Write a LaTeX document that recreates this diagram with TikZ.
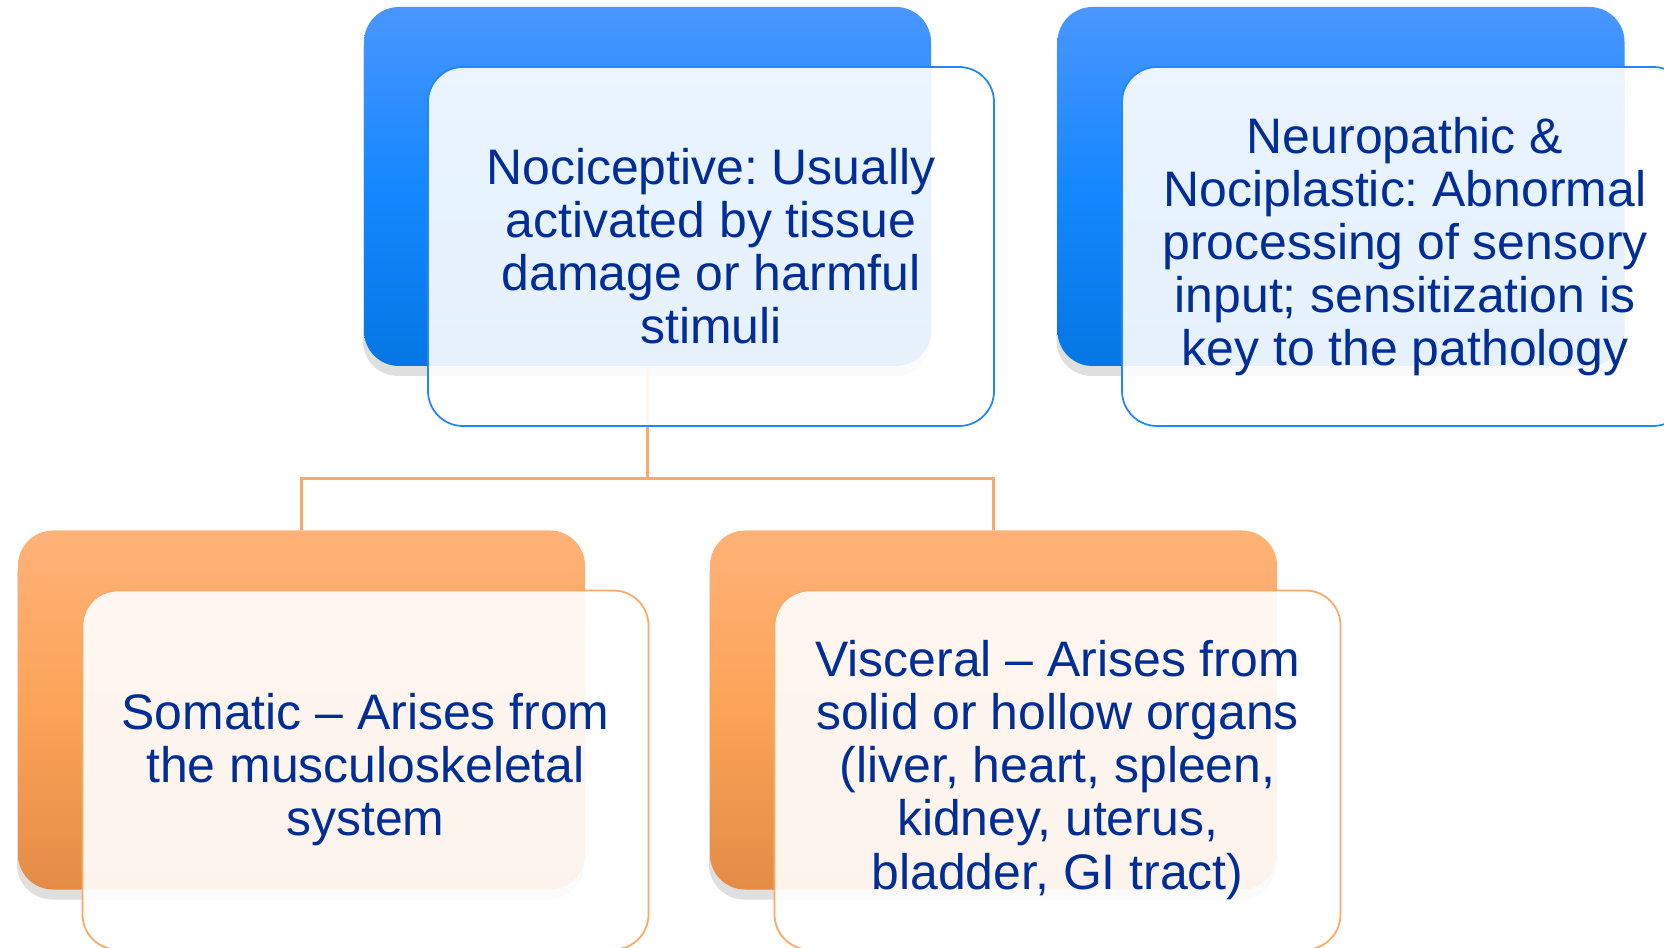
\documentclass[tikz,border=0pt]{standalone}
\usepackage{fontspec}
\setmainfont{Liberation Sans}
\frenchspacing
\usetikzlibrary{shadows}

\definecolor{blueTop}{RGB}{74,150,255}
\definecolor{blueMid}{RGB}{20,136,255}
\definecolor{blueBot}{RGB}{6,118,228}
\definecolor{orangeTop}{RGB}{255,178,120}
\definecolor{orangeMid}{RGB}{252,163,88}
\definecolor{orangeBot}{RGB}{228,140,70}
\definecolor{blueLine}{RGB}{35,135,250}
\definecolor{orangeLine}{RGB}{252,168,105}
\definecolor{txtBlue}{RGB}{0,45,150}

\begin{document}
\begin{tikzpicture}[
  back/.style={rounded corners=0.35cm, minimum width=5.67cm, minimum height=3.59cm,
    drop shadow={shadow xshift=-0.1mm, shadow yshift=-1mm, opacity=0.25}},
  blueback/.style={back, top color=blueTop, bottom color=blueBot, middle color=blueMid},
  orangeback/.style={back, top color=orangeTop, bottom color=orangeBot, middle color=orangeMid},
  front/.style={draw, line width=0.5pt, rounded corners=0.35cm, minimum width=5.66cm,
    minimum height=3.59cm, fill=white, fill opacity=0.9, text opacity=1, text=txtBlue,
    align=center, font=\fontsize{14.2}{15.1}\selectfont},
  bluefront/.style={front, draw=blueLine},
  orangefront/.style={front, draw=orangeLine},
  link/.style={draw=orangeLine, line width=0.9pt}
]

\clip (0,0) rectangle (16.64,-9.48);

% Back cards
\node[blueback]   (nocback) at (6.475,-1.865) {};
\node[blueback]   (neuback) at (13.41,-1.865) {};
\node[orangeback] (somback) at (3.015,-7.10)  {};
\node[orangeback] (visback) at (9.935,-7.10)  {};

% Tree links
\draw[link] (nocback.south) -- ++(0,-1.12) -| (somback.north);
\draw[link] (nocback.south) -- ++(0,-1.12) -| (visback.north);

% Front cards
\node[bluefront] (nocfront) at (7.11,-2.465)
  {Nociceptive: Usually\\activated by tissue\\damage or harmful\\stimuli};
\node[bluefront] (neufront) at (14.05,-2.465)
  {Neuropathic \&\\Nociplastic: Abnormal\\processing of sensory\\input; sensitization is\\key to the pathology};
\node[orangefront] (somfront) at (3.655,-7.70)
  {Somatic -- Arises from\\the musculoskeletal\\system};
\node[orangefront] (visfront) at (10.575,-7.70)
  {Visceral -- Arises from\\solid or hollow organs\\(liver, heart, spleen,\\kidney, uterus,\\bladder, GI tract)};

\end{tikzpicture}
\end{document}
